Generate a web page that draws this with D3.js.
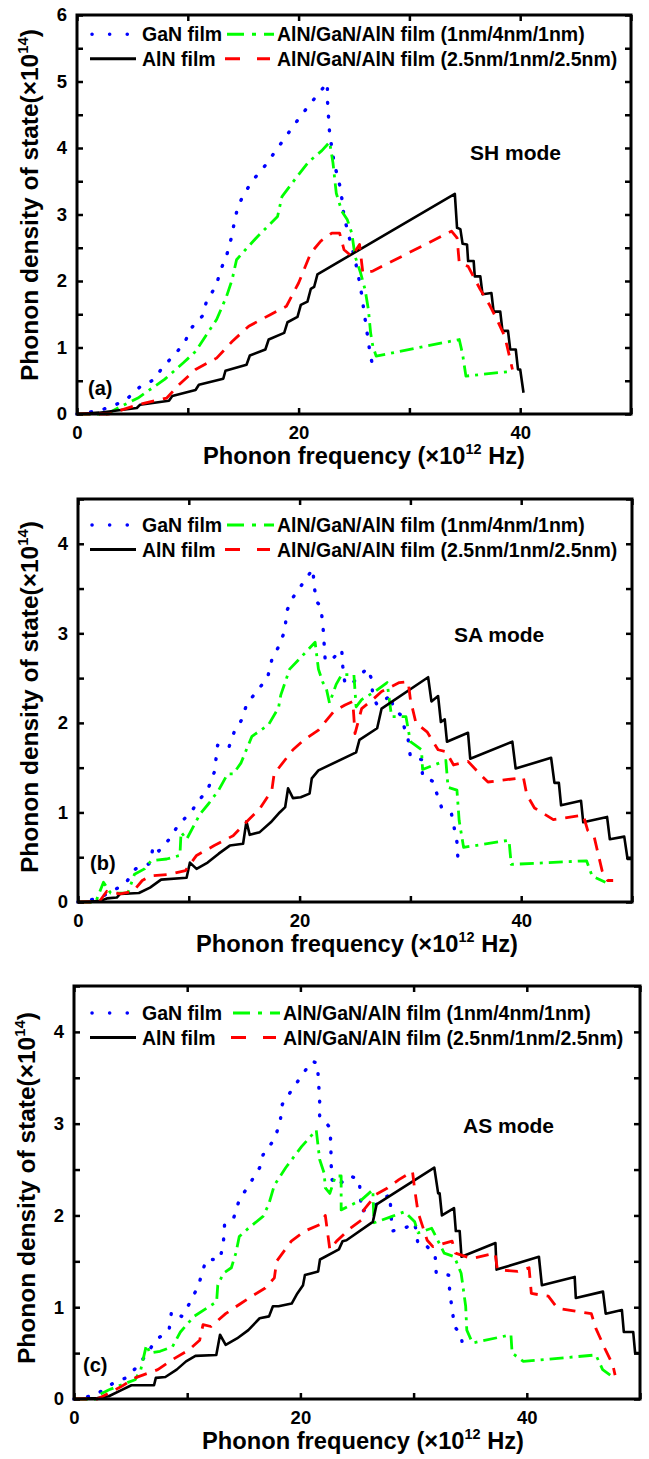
<!DOCTYPE html>
<html>
<head>
<meta charset="utf-8">
<script src="https://cdn.jsdelivr.net/npm/d3@7"></script>
<style>
  body { margin: 0; background: #fff; }
  svg text { font-family: "Liberation Sans", Arial, sans-serif; font-weight: bold; }
</style>
</head>
<body>
<div id="chart"></div>
<script>
var svgwidth = 649;
var svgheight = 1459;

// x tick labels (frequency, x10^12 Hz)
var xTicks = [0, 10, 20, 30, 40, 50];
var xLabels = [0, 20, 40];

// (a) SH mode
var aGaN = [[0,0],[2,0.05],[3.4,0.13],[4.6,0.24],[5.7,0.41],[7,0.52],[7.7,0.7],[8.8,0.89],[9.7,1.07],[10.3,1.29],[11.3,1.47],[11.7,1.7],[12.6,1.94],[12.9,2.14],[13.5,2.38],[13.9,2.63],[14.2,2.88],[14.5,3.11],[15.1,3.32],[16,3.54],[17,3.74],[17.9,3.95],[18.8,4.16],[19.7,4.37],[20.7,4.59],[21.7,4.8],[22.6,4.98],[22.6,4.73],[22.7,4.47],[22.8,4.22],[23.2,3.78],[23.8,3.38],[24.1,2.97],[24.5,2.7],[25.1,2.32],[25.6,1.9],[26,1.43],[26.4,0.97],[26.7,0.7]];
var aGreen = [[0,0],[2.7,0],[3.7,0.09],[5.5,0.24],[7.9,0.52],[9.6,0.77],[10.7,0.94],[11.6,1.17],[12.6,1.42],[13.5,1.77],[14,2.02],[14.4,2.32],[15.2,2.47],[16.3,2.67],[18.1,2.97],[18.5,3.27],[20,3.6],[20.9,3.79],[22.1,3.96],[22.8,4.09],[23.1,3.78],[23.4,3.32],[23.9,3.05],[24.4,2.92],[24.8,2.72],[25.1,2.37],[25.6,2.12],[26,1.87],[26.3,1.57],[26.5,1.22],[26.7,1.02],[27,0.87],[34.5,1.12],[34.8,0.9],[35.1,0.57],[39.1,0.64]];
var aAlN = [[0,0],[2,0.02],[5.4,0.09],[5.7,0.14],[8.3,0.2],[8.6,0.27],[10.7,0.36],[11,0.44],[13.2,0.53],[13.4,0.65],[15.3,0.74],[15.6,0.88],[17,0.97],[17.3,1.12],[18.7,1.22],[19,1.38],[19.9,1.46],[20.2,1.64],[20.8,1.69],[21.1,1.88],[21.4,1.91],[21.7,2.1],[34.1,3.31],[34.3,2.8],[34.6,2.78],[34.8,2.56],[35.2,2.55],[35.3,2.3],[35.8,2.3],[35.9,2.07],[36.4,2.07],[36.6,1.8],[37.4,1.82],[37.6,1.54],[38.2,1.54],[38.4,1.25],[38.9,1.25],[39.1,0.97],[39.6,0.97],[39.8,0.67],[40,0.67],[40.3,0.32]];
var aRed = [[0,0],[2.9,0],[5.5,0.14],[8.1,0.24],[9.2,0.44],[10.7,0.67],[12.6,0.84],[14,1.09],[15.5,1.32],[17.4,1.49],[18.9,1.62],[20,1.97],[21.1,2.42],[22,2.6],[23,2.72],[23.7,2.72],[24.1,2.47],[24.8,2.37],[25.5,2.55],[25.8,2.12],[26.7,2.15],[33.8,2.75],[34.3,2.65],[34.5,2.27],[35.3,2.22],[36.4,1.87],[37.3,1.62],[37.9,1.42],[38.6,1.17],[39,0.89],[39.3,0.67]];

// (b) SA mode
var bGaN = [[0,0],[1.8,0.04],[2.95,0.11],[4.3,0.21],[5.2,0.37],[6.5,0.43],[6.8,0.63],[7.3,0.57],[8.3,0.71],[9.1,0.87],[10.2,1.0],[10.8,1.12],[11.7,1.25],[12.3,1.45],[12.5,1.64],[12.6,1.75],[13.6,1.72],[14.1,1.9],[14.8,2.04],[15.2,2.2],[16.1,2.35],[17.1,2.5],[17.5,2.71],[18.1,2.85],[18.7,3.04],[18.8,3.24],[19.4,3.4],[20.3,3.56],[21.2,3.72],[21.3,3.55],[21.5,3.36],[21.9,3.3],[22.1,3.1],[22.2,2.91],[22.3,2.72],[22.7,2.68],[23.8,2.82],[23.9,2.63],[24.1,2.43],[24.9,2.46],[26.1,2.61],[26.5,2.49],[26.6,2.3],[27,2.2],[28.3,2.31],[28.4,2.18],[29.1,2.09],[29.8,1.81],[30,1.62],[31,1.59],[31.1,1.4],[32,1.35],[32.8,1.06],[33.7,0.99],[34.2,0.67],[34.3,0.46]];
var bGreen = [[0,0],[1.6,0],[2.3,0.22],[2.95,0.1],[4.5,0.1],[5.1,0.31],[6,0.37],[6.6,0.46],[8,0.48],[9.2,0.52],[9.3,0.78],[9.8,0.7],[11,0.98],[11.8,1.1],[12.7,1.25],[13.5,1.43],[14,1.43],[14.7,1.55],[15.7,1.85],[17.2,1.98],[18.1,2.17],[18.3,2.31],[19.1,2.6],[21.4,2.9],[21.7,2.6],[22.1,2.45],[22.4,2.39],[22.7,2.22],[23.3,2.43],[23.8,2.54],[24.9,2.54],[25.1,2.18],[25.6,2.26],[26.8,2.35],[27.9,2.45],[28.3,2.07],[29.6,2.07],[30,1.79],[31,1.7],[31.1,1.48],[33.2,1.58],[33.4,1.28],[34.2,1.25],[34.4,0.91],[34.8,0.61],[38.9,0.69],[39.1,0.42],[45.9,0.46],[46.4,0.29],[47.6,0.22]];
var bAlN = [[0,0],[1.95,0.01],[2.6,0.04],[3.5,0.05],[3.8,0.09],[5.5,0.1],[6.5,0.16],[7.5,0.25],[9.8,0.27],[10.1,0.44],[10.7,0.37],[11.7,0.44],[12.7,0.54],[13.7,0.63],[14.9,0.65],[15.2,0.9],[15.5,0.75],[16.4,0.78],[17.4,0.89],[18.2,1.0],[18.7,1.06],[18.96,1.27],[19.4,1.16],[20.1,1.17],[20.9,1.21],[21.1,1.38],[21.7,1.47],[25.1,1.67],[25.4,1.81],[27,1.94],[27.4,2.16],[31.6,2.51],[31.9,2.24],[32.5,2.3],[32.75,2.01],[33.1,2.04],[33.3,1.79],[35.2,1.89],[35.4,1.6],[39.2,1.79],[39.5,1.49],[42.7,1.61],[43,1.33],[43.4,1.33],[43.6,1.08],[45.4,1.13],[45.6,0.89],[47.75,0.95],[48,0.7],[49.3,0.73],[49.6,0.48],[50,0.48]];
var bRed = [[0,0],[1.9,0],[2.6,0.12],[3.8,0.09],[5,0.12],[5.8,0.24],[6.5,0.29],[8.3,0.31],[9.7,0.35],[10.7,0.52],[12.3,0.63],[14,0.74],[15,0.87],[16.4,1.04],[17.5,1.25],[17.7,1.43],[19.4,1.7],[20.4,1.81],[21.7,1.92],[23.1,2.13],[24.1,2.2],[24.8,2.24],[25,1.88],[25.6,2.16],[26.6,2.26],[27.4,2.35],[29,2.45],[29.8,2.46],[30,2.26],[30.5,2.0],[31.5,1.9],[32.5,1.7],[33.2,1.68],[33.9,1.53],[35.2,1.57],[36.5,1.4],[37,1.34],[40.2,1.39],[40.5,1.2],[41.2,1.05],[42.9,0.92],[45.6,0.97],[46,0.8],[46.6,0.72],[47.3,0.35],[47.8,0.24],[48.3,0.24]];

// (c) AS mode
var cGaN = [[0,0],[1.9,0.04],[2.9,0.13],[3.7,0.19],[4.6,0.23],[5.4,0.33],[6.5,0.5],[7.2,0.64],[8.4,0.75],[8.6,0.94],[8.9,0.96],[9.5,0.9],[10.3,1.06],[11,1.24],[11.6,1.49],[11.7,1.52],[12.9,1.52],[13.2,1.71],[13.3,1.9],[14.1,1.97],[14.6,2.17],[15.4,2.32],[16.4,2.52],[16.7,2.66],[17.7,2.83],[18.2,3.01],[18.4,3.21],[19.2,3.36],[20.1,3.52],[21,3.68],[21.5,3.66],[21.6,3.46],[21.7,3.26],[21.7,3.07],[22.1,3.03],[22.6,2.96],[22.7,2.76],[22.7,2.59],[22.8,2.39],[23.2,2.32],[24.4,2.43],[25.2,2.39],[25.3,2.21],[25.4,2.04],[26.7,2.12],[27.9,2.23],[28,2.03],[28.1,1.83],[29.2,1.86],[30.1,1.92],[30.4,1.68],[31.2,1.66],[31.9,1.57],[32,1.37],[33.1,1.35],[33.2,1.15],[33.4,0.99],[33.6,0.79],[34.2,0.7],[34.4,0.5]];
var cGreen = [[0,0],[1.9,0],[2.1,0.04],[3.1,0.1],[4.1,0.15],[5.4,0.21],[5.9,0.32],[6.4,0.59],[6.7,0.5],[7.6,0.52],[8.7,0.57],[9.4,0.73],[10.6,0.9],[12.6,1.06],[12.7,1.24],[13.2,1.37],[13.9,1.43],[14.3,1.59],[14.6,1.77],[15.4,1.86],[16.7,1.99],[17.2,2.12],[17.7,2.33],[18.7,2.52],[20.1,2.75],[21.4,2.93],[21.7,2.61],[22.1,2.46],[22.2,2.3],[22.6,2.24],[23.1,2.43],[23.6,2.43],[23.6,2.06],[25.4,2.17],[26.4,2.28],[26.5,1.92],[28.1,1.99],[29.2,2.04],[30.1,1.93],[30.4,1.81],[31.6,1.86],[32.7,1.59],[33.6,1.55],[34.2,1.37],[34.6,1.01],[34.7,0.75],[35.2,0.61],[38.6,0.7],[38.7,0.5],[39.7,0.41],[46.1,0.48],[46.7,0.32],[47.7,0.23]];
var cAlN = [[0,0],[2.07,0.01],[3.07,0.03],[4.23,0.1],[5.07,0.15],[7.07,0.15],[7.23,0.23],[8.07,0.24],[9.07,0.32],[9.9,0.41],[10.73,0.47],[12.57,0.48],[12.9,0.7],[13.4,0.59],[14.4,0.66],[15.4,0.75],[16.4,0.88],[17.23,0.9],[17.57,1.01],[18.07,1.01],[19.23,1.04],[19.73,1.15],[20.23,1.24],[20.4,1.35],[21,1.37],[21.57,1.39],[21.73,1.52],[23.4,1.63],[23.73,1.72],[24.07,1.73],[26.4,1.93],[26.73,2.12],[31.83,2.52],[32.17,2.24],[32.3,2.24],[32.5,2.0],[33.57,2.08],[33.73,1.83],[34.07,1.83],[34.23,1.55],[37.23,1.7],[37.33,1.41],[41.07,1.55],[41.33,1.24],[44.23,1.33],[44.33,1.1],[46.73,1.17],[46.97,0.93],[48.4,0.97],[48.57,0.73],[49.4,0.73],[49.57,0.5],[50,0.5]];
var cRed = [[0,0],[2.07,0],[4.1,0.13],[5.4,0.23],[7.4,0.32],[8.7,0.43],[10.1,0.53],[11.1,0.64],[11.4,0.81],[12.1,0.79],[13.4,0.93],[14.6,1.03],[15.7,1.12],[16.9,1.21],[17.7,1.32],[17.9,1.5],[19.2,1.72],[20.4,1.83],[21.7,1.9],[22.2,2.0],[22.6,1.63],[23.2,1.72],[24.4,1.86],[25.4,1.95],[25.6,2.06],[26.7,2.23],[27.7,2.3],[28.7,2.39],[29.9,2.48],[30.1,2.28],[30.4,2.03],[31.2,1.73],[31.7,1.66],[33.4,1.72],[33.7,1.59],[35.1,1.53],[37.2,1.59],[37.4,1.41],[39.2,1.39],[40.2,1.43],[40.4,1.15],[41.9,1.12],[42.7,0.99],[44.6,0.95],[45.7,0.93],[46.1,0.77],[46.9,0.55],[47.6,0.37],[47.8,0.26]];

var legendNames = ["GaN film", "AlN/GaN/AlN film (1nm/4nm/1nm)", "AlN film", "AlN/GaN/AlN film (2.5nm/1nm/2.5nm)"];

var styles = {
    gan:   {color: "#0000ff", width: 3.4, dash: "0.8,13", cap: "round"},
    green: {color: "#00ff00", width: 2.8, dash: "14,6,3,6", cap: "butt"},
    aln:   {color: "#000000", width: 2.6, dash: null, cap: "butt"},
    red:   {color: "#ff0000", width: 2.8, dash: "13,9", cap: "butt"}
};

var svg = d3.select("#chart")
            .append("svg")
            .attr("width", svgwidth)
            .attr("height", svgheight)
            .attr("viewBox", "0 0 " + svgwidth + " " + svgheight);

function drawPanel(p) {
    var x = d3.scaleLinear().domain([0, 50]).range([p.left, p.right]);
    var y = d3.scaleLinear().domain([0, p.ymax]).range([p.bottom, p.top]);
    var yTicks = d3.range(0, p.ymax + 0.01, 0.5);

    var g = svg.append("g");

    // data lines
    var line = d3.line().x(d => x(d[0])).y(d => y(d[1]));
    p.series.forEach(function(s) {
        var st = styles[s.style];
        g.append("path")
            .datum(s.data)
            .attr("d", line)
            .attr("fill", "none")
            .attr("stroke", st.color)
            .attr("stroke-width", st.width)
            .attr("stroke-linecap", st.cap)
            .attr("stroke-linejoin", "round")
            .attr("stroke-dasharray", st.dash);
    });

    // axes, ticks pointing inward on all sides
    var xb = d3.axisBottom(x).tickValues(xTicks).tickSize(-6).tickPadding(12)
                .tickFormat(d => xLabels.includes(d) ? d : "");
    var xt = d3.axisTop(x).tickValues(xTicks).tickSize(-6).tickFormat("");
    var yl = d3.axisLeft(y).tickValues(yTicks).tickSize(-6).tickPadding(10)
                .tickFormat(d => Number.isInteger(d) ? d : "");
    var yr = d3.axisRight(y).tickValues(yTicks).tickSize(-6).tickFormat("");

    [[xb, "translate(0," + p.bottom + ")"], [xt, "translate(0," + p.top + ")"],
     [yl, "translate(" + p.left + ",0)"], [yr, "translate(" + p.right + ",0)"]].forEach(function(a) {
        var ax = g.append("g").attr("transform", a[1]).call(a[0]);
        ax.select(".domain").remove();
        ax.selectAll("line").attr("stroke", "#000").attr("stroke-width", 2.5);
        ax.selectAll("text")
            .attr("fill", "#000")
            .style("font-family", "'Liberation Sans', Arial, sans-serif")
            .style("font-weight", "bold")
            .style("font-size", "18.5px");
    });

    g.append("rect")
        .attr("x", p.left).attr("y", p.top)
        .attr("width", p.right - p.left).attr("height", p.bottom - p.top)
        .attr("fill", "none").attr("stroke", "#000").attr("stroke-width", 3);

    // x title
    var xt1 = g.append("text")
        .attr("x", (p.left + p.right) / 2 + p.titleDx)
        .attr("y", p.bottom + 50)
        .attr("text-anchor", "middle")
        .attr("textLength", 322)
        .attr("lengthAdjust", "spacingAndGlyphs")
        .style("font-size", "23px");
    xt1.append("tspan").text("Phonon frequency (\u00d710");
    xt1.append("tspan").attr("dy", -10).style("font-size", "14px").text("12");
    xt1.append("tspan").attr("dy", 10).text(" Hz)");

    // y title
    var yt = g.append("text")
        .attr("transform", "translate(" + p.ytitleX + "," + p.ytitleY + ") rotate(-90)")
        .attr("text-anchor", "middle")
        .attr("textLength", 352)
        .attr("lengthAdjust", "spacingAndGlyphs")
        .style("font-size", "23px");
    yt.append("tspan").text("Phonon density of state(\u00d710");
    yt.append("tspan").attr("dy", -10).style("font-size", "14px").text("14");
    yt.append("tspan").attr("dy", 10).text(")");

    // legend
    var rows = [p.top + p.legTop, p.top + p.legTop + 24.5];
    var items = [
        {style: "gan", name: legendNames[0], x0: 92, x1: 128, tx: 142, row: 0, dash: "0.1,17.5", w: 3.5, cap: "round"},
        {style: "green", name: legendNames[1], x0: p.col2 - 50, x1: p.col2 - 3, tx: p.col2, row: 0, dash: "17,8,4,8", w: 3, cap: "butt"},
        {style: "aln", name: legendNames[2], x0: 90, x1: 136, tx: 142, row: 1, dash: null, w: 3, cap: "butt"},
        {style: "red", name: legendNames[3], x0: p.col2 - 52, x1: p.col2 - 7, tx: p.col2, row: 1, dash: "15,17", w: 3, cap: "butt"}
    ];
    items.forEach(function(it) {
        g.append("line")
            .attr("x1", it.x0).attr("x2", it.x1)
            .attr("y1", rows[it.row]).attr("y2", rows[it.row])
            .attr("stroke", styles[it.style].color)
            .attr("stroke-width", it.w)
            .attr("stroke-linecap", it.cap)
            .attr("stroke-dasharray", it.dash);
        g.append("text")
            .attr("x", it.tx).attr("y", rows[it.row] + 7)
            .style("font-size", "19.5px")
            .text(it.name);
    });

    // panel tag and mode label
    g.append("text").attr("x", p.tagX).attr("y", p.tagY).style("font-size", "20px").text(p.tag);
    g.append("text").attr("x", p.modeX).attr("y", p.modeY).style("font-size", "21px").text(p.mode);
}

drawPanel({left: 77, right: 631, top: 15, bottom: 414, ymax: 6,
    series: [{data: aGaN, style: "gan"}, {data: aGreen, style: "green"}, {data: aAlN, style: "aln"}, {data: aRed, style: "red"}],
    titleDx: 10, ytitleX: 38, ytitleY: 205, legTop: 19.3, col2: 277,
    tag: "(a)", tagX: 88, tagY: 395, mode: "SH mode", modeX: 470, modeY: 160});

drawPanel({left: 78, right: 632, top: 499, bottom: 902, ymax: 4.5,
    series: [{data: bGaN, style: "gan"}, {data: bGreen, style: "green"}, {data: bAlN, style: "aln"}, {data: bRed, style: "red"}],
    titleDx: 2, ytitleX: 38, ytitleY: 697, legTop: 26, col2: 277,
    tag: "(b)", tagX: 90, tagY: 870, mode: "SA mode", modeX: 454, modeY: 642});

drawPanel({left: 74, right: 640, top: 986, bottom: 1399, ymax: 4.5,
    series: [{data: cGaN, style: "gan"}, {data: cGreen, style: "green"}, {data: cAlN, style: "aln"}, {data: cRed, style: "red"}],
    titleDx: 6, ytitleX: 35, ytitleY: 1188, legTop: 27, col2: 283,
    tag: "(c)", tagX: 83, tagY: 1372, mode: "AS mode", modeX: 463, modeY: 1133});
</script>
</body>
</html>
